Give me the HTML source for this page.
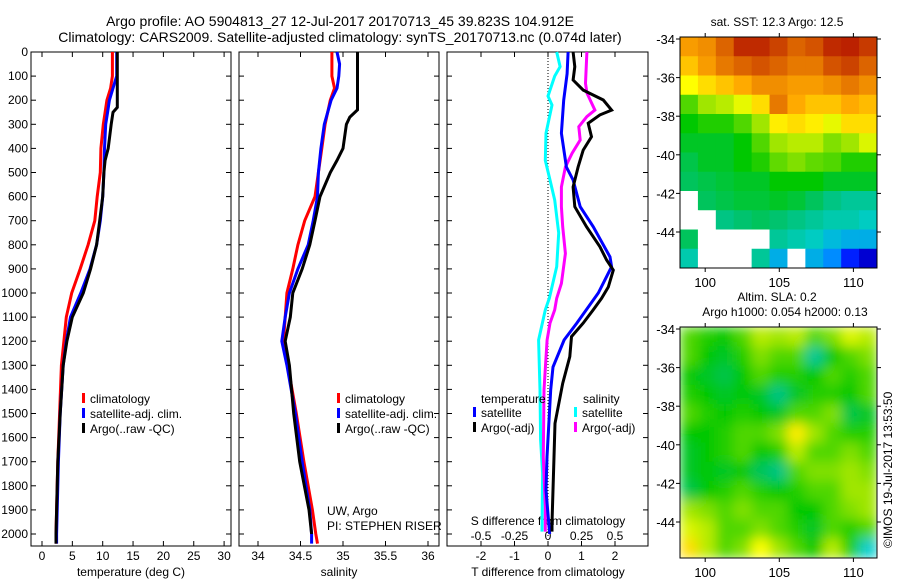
<!DOCTYPE html>
<html><head><meta charset="utf-8"><style>
body{margin:0;background:#fff;}
svg{font-family:"Liberation Sans",sans-serif;}
</style></head><body>
<svg id="c" width="900" height="580" xmlns="http://www.w3.org/2000/svg">
<g font-size="14" text-anchor="middle">
<text x="340" y="26">Argo profile: AO 5904813_27 12-Jul-2017 20170713_45 39.823S 104.912E</text>
<text x="340" y="42">Climatology: CARS2009. Satellite-adjusted climatology: synTS_20170713.nc (0.074d later)</text>
</g>
</svg>
<script>
// ---------- data ----------
const depthLabels=[0,100,200,300,400,500,600,700,800,900,1000,1100,1200,1300,1400,1500,1600,1700,1800,1900,2000];
const tempTicks=[0,5,10,15,20,25,30];
const salTicks=[34,34.5,35,35.5,36];
const salTickLabels=["34","34.5","35","35.5","36"];
const tdTicks=[-2,-1,0,1,2];
const sdTicks=[-0.5,-0.25,0,0.25,0.5];
const sdTickLabels=["-0.5","-0.25","0","0.25","0.5"];
const lonTicks=[100,105,110];
const latTicks=[-34,-36,-38,-40,-42,-44];

const depthT=[0,100,150,200,250,300,400,500,600,700,800,900,1000,1100,1200,1300,1500,1700,2000,2040];
const tempClim=[11.6,11.6,11.3,10.7,10.4,10.1,9.7,9.6,9.1,8.7,7.6,6.3,4.9,4.0,3.6,3.2,2.9,2.6,2.3,2.3];
const tempSat=[12.3,12.3,11.7,11.1,10.8,10.5,10.3,10.2,10.0,9.6,9.0,7.9,6.4,4.7,4.0,3.5,3.0,2.7,2.4,2.4];
const depthArgoT=[0,230,250,300,400,450,500,600,700,800,900,1000,1100,1200,1300,1500,1700,2000,2040];
const tempArgo=[12.4,12.4,11.7,11.4,10.9,10.4,10.2,10.0,9.5,9.0,8.0,6.8,5.0,4.1,3.5,3.0,2.6,2.3,2.3];

const depthS=[0,50,100,150,200,300,400,500,600,700,800,900,1000,1100,1200,1300,1500,1700,1900,2000,2040];
const salClim=[34.87,34.87,34.87,34.9,34.85,34.79,34.75,34.71,34.67,34.55,34.47,34.41,34.34,34.32,34.30,34.35,34.45,34.54,34.64,34.68,34.70];
const salSat=[34.93,34.96,34.95,34.93,34.86,34.78,34.74,34.71,34.70,34.65,34.59,34.47,34.37,34.32,34.28,34.34,34.44,34.52,34.61,34.63,34.63];
const depthArgoS=[0,240,270,300,400,450,500,600,700,800,900,1000,1100,1200,1300,1500,1700,1900,2000];
const salArgo=[35.17,35.17,35.08,35.04,35.0,34.93,34.85,34.73,34.67,34.61,34.52,34.41,34.38,34.32,34.37,34.42,34.49,34.6,34.63];

const depthTdSat=[0,90,200,337,477,531,642,725,850,891,1000,1125,1195,1307,1402,1680,1817,1954,2000];
const tdSat=[0.6,0.57,0.47,0.4,0.55,0.75,0.96,1.35,1.85,1.9,1.5,0.86,0.48,0.15,0.08,-0.03,-0.06,0.02,0.05];
const depthTdArgo=[0,61,116,158,199,241,261,296,352,407,477,560,642,725,808,863,905,975,1022,1070,1125,1181,1264,1375,1541,1680,1817,1954,1990];
const tdArgo=[0.75,0.8,0.75,1.05,1.65,1.9,1.55,1.2,1.3,1.05,0.9,0.75,0.8,1.15,1.55,1.75,1.95,1.8,1.6,1.35,1.05,0.7,0.65,0.44,0.21,0.18,0.15,0.12,0.12];
const depthSdSat=[0,61,100,183,220,337,450,531,614,751,891,1022,1070,1195,1402,1610,1748,1990];
const sdSat=[0.065,0.09,0.05,0.0,0.03,-0.015,-0.02,0.015,0.05,0.08,0.065,0.01,-0.02,-0.07,-0.06,-0.055,-0.04,-0.045];
const depthSdArgo=[0,130,170,241,268,310,365,420,477,560,642,725,836,960,1022,1070,1125,1195,1402,1680,1885,1990];
const sdArgo=[0.29,0.28,0.29,0.35,0.29,0.23,0.24,0.18,0.13,0.1,0.1,0.11,0.13,0.1,0.065,0.05,0.015,-0.007,-0.03,-0.035,-0.02,-0.02];

const N=null;
const sstGrid=[
[.80,.82,.88,.95,.95,.92,.88,.90,.95,.96,.93],
[.75,.80,.85,.88,.90,.88,.85,.85,.90,.92,.88],
[.68,.72,.75,.78,.82,.82,.80,.80,.82,.85,.82],
[.55,.60,.62,.66,.72,.85,.78,.75,.75,.78,.76],
[.50,.52,.52,.55,.60,.70,.72,.70,.66,.72,.72],
[.48,.48,.48,.50,.55,.60,.62,.62,.58,.60,.65],
[.46,.48,.48,.50,.52,.56,.58,.56,.55,.52,.52],
[.45,.46,.47,.48,.48,.50,.50,.50,.48,.48,.48],
[N,.45,.46,.47,.47,.48,.47,.45,.42,.40,.40],
[N,N,.42,.44,.45,.44,.42,.40,.38,.38,.36],
[.45,N,N,N,N,.40,.38,.36,.32,.30,.30],
[.38,N,N,N,.40,.30,N,.30,.25,.15,.08]];
const slaGrid=[
[.55,.52,.50,.55,.62,.60,.62,.55,.58,.65,.62],
[.55,.50,.48,.52,.58,.55,.55,.40,.50,.55,.58],
[.50,.48,.46,.50,.55,.52,.52,.50,.55,.52,.55],
[.52,.50,.48,.50,.48,.42,.48,.52,.52,.50,.55],
[.55,.52,.50,.52,.50,.48,.55,.55,.58,.46,.48],
[.50,.50,.52,.55,.55,.58,.70,.60,.55,.52,.52],
[.48,.50,.52,.55,.50,.52,.62,.55,.55,.58,.55],
[.48,.50,.48,.50,.45,.42,.55,.58,.58,.60,.58],
[.46,.50,.52,.55,.52,.50,.52,.55,.55,.60,.60],
[.60,.58,.55,.58,.55,.55,.50,.50,.55,.58,.60],
[.65,.62,.55,.55,.58,.55,.52,.48,.55,.52,.55],
[.72,.62,.55,.58,.68,.60,.55,.50,.62,.52,.35]];

// ---------- helpers ----------
const svg=document.getElementById('c');
const NS="http://www.w3.org/2000/svg";
function mk(tag,attrs,parent){const e=document.createElementNS(NS,tag);for(const k in attrs)e.setAttribute(k,attrs[k]);(parent||svg).appendChild(e);return e;}
const yTop=52,yBot=546;
const yD=d=>yTop+d*0.241;
const panels=[{x0:31,x1:231},{x0:239,x1:439},{x0:447,x1:648}];
const xT=v=>42+v*6.07;
const xS=v=>258+(v-34)*85;
const xTd=v=>548+v*33.5;
const xSd=v=>548+v*134;

function line(xs,ds,fx,color,name){
  const p=mk('polyline',{points:xs.map((v,i)=>fx(v).toFixed(1)+','+yD(ds[i]).toFixed(1)).join(' '),fill:'none',stroke:color,'stroke-width':3});
  
  
}
function txt(x,y,s,anchor,size,name,parent){const t=mk('text',{x:x,y:y,'text-anchor':anchor||'start','font-size':size||12},parent);t.textContent=s;
  
  
  return t;}

panels.forEach((p,i)=>{
  const r=mk('rect',{x:p.x0,y:yTop,width:p.x1-p.x0,height:yBot-yTop,fill:'none',stroke:'#000','stroke-width':1});
  
  
  depthLabels.forEach(d=>{
    mk('line',{x1:p.x0,x2:p.x0+5,y1:yD(d),y2:yD(d),stroke:'#000'});
    mk('line',{x1:p.x1,x2:p.x1-5,y1:yD(d),y2:yD(d),stroke:'#000'});
  });
});
depthLabels.forEach(d=>txt(28,yD(d)+4,String(d),'end',12,'depth-tick-label'));
tempTicks.forEach(v=>{mk('line',{x1:xT(v),x2:xT(v),y1:yBot,y2:yBot-5,stroke:'#000'});mk('line',{x1:xT(v),x2:xT(v),y1:yTop,y2:yTop+5,stroke:'#000'});txt(xT(v),560,String(v),'middle',12,'temp-tick-label');});
salTicks.forEach((v,i)=>{mk('line',{x1:xS(v),x2:xS(v),y1:yBot,y2:yBot-5,stroke:'#000'});mk('line',{x1:xS(v),x2:xS(v),y1:yTop,y2:yTop+5,stroke:'#000'});txt(xS(v),560,salTickLabels[i],'middle',12,'salinity-tick-label');});
tdTicks.forEach(v=>{mk('line',{x1:xTd(v),x2:xTd(v),y1:yBot,y2:yBot-5,stroke:'#000'});mk('line',{x1:xTd(v),x2:xTd(v),y1:yTop,y2:yTop+5,stroke:'#000'});txt(xTd(v),560,String(v),'middle',12,'t-diff-tick-label');});
sdTicks.forEach((v,i)=>txt(xSd(v),540,sdTickLabels[i],'middle',12,'s-diff-tick-label'));
txt(131,576,'temperature (deg C)','middle',12,'x-axis-title-temperature');
txt(339,576,'salinity','middle',12,'x-axis-title-salinity');
txt(548,576,'T difference from climatology','middle',12,'x-axis-title-t-diff');
txt(548,525,'S difference from climatology','middle',12,'s-diff-axis-title');
const dz=mk('line',{x1:548,x2:548,y1:yTop,y2:yBot-8,stroke:'#000','stroke-dasharray':'1,2'});


line(tempClim,depthT,xT,'#f00','temp-climatology-line');
line(tempSat,depthT,xT,'#00f','temp-satellite-line');
line(tempArgo,depthArgoT,xT,'#000','temp-argo-line');
line(salClim,depthS,xS,'#f00','sal-climatology-line');
line(salSat,depthS,xS,'#00f','sal-satellite-line');
line(salArgo,depthArgoS,xS,'#000','sal-argo-line');
line(sdSat,depthSdSat,xSd,'#0ff','s-diff-satellite-line');
line(sdArgo,depthSdArgo,xSd,'#f0f','s-diff-argo-line');
line(tdSat,depthTdSat,xTd,'#00f','t-diff-satellite-line');
line(tdArgo,depthTdArgo,xTd,'#000','t-diff-argo-line');

function leg(x,y,color,label){
  const g=mk('g',{});
  
  
  mk('rect',{x:x,y:y-10,width:3,height:10,fill:color},g);
  txt(x+8,y,label,'start',12,'legend-label',g);
}
leg(82,403,'#f00','climatology');leg(82,418,'#00f','satellite-adj. clim.');leg(82,433,'#000','Argo(..raw -QC)');
leg(337,403,'#f00','climatology');leg(337,418,'#00f','satellite-adj. clim.');leg(337,433,'#000','Argo(..raw -QC)');
txt(481,403,'temperature','start',12,'legend-header-temperature');
txt(583,403,'salinity','start',12,'legend-header-salinity');
leg(473,417,'#00f','satellite');leg(473,432,'#000','Argo(-adj)');
leg(574,417,'#0ff','satellite');leg(574,432,'#f0f','Argo(-adj)');
txt(327,515,'UW, Argo','start',12,'credit-uw');
txt(327,530,'PI: STEPHEN RISER','start',12,'credit-pi');

// ---------- maps ----------
const cmapStops=[[0,[0,0,120]],[0.12,[0,0,255]],[0.25,[0,140,255]],[0.35,[0,205,205]],[0.44,[0,195,110]],[0.5,[0,200,0]],[0.6,[160,230,0]],[0.68,[255,255,0]],[0.78,[255,170,0]],[0.88,[220,100,0]],[1,[170,0,0]]];
function cmap(v){
  v=Math.max(0,Math.min(1,v));
  for(let i=1;i<cmapStops.length;i++){
    const [a,ca]=cmapStops[i-1],[b,cb]=cmapStops[i];
    if(v<=b){const t=(v-a)/(b-a);return `rgb(${ca.map((c,k)=>Math.round(c+(cb[k]-c)*t)).join(',')})`;}
  }
  return 'rgb(170,0,0)';
}
const mx0=680,mx1=877;
const xLon=l=>mx0+(l-98.3)*14.82;
function drawMap(grid,yt,name,blur){
  const yb=yt+231;
  const yLat=la=>yt+2+(-34-la)*19.3;
  const cp=mk('clipPath',{id:'clip'+name});mk('rect',{x:mx0,y:yt,width:mx1-mx0,height:yb-yt},cp);
  const g=mk('g',{'clip-path':`url(#clip${name})`});
  
  
  const inner=mk('g',blur?{filter:'url(#blur)'}:{},g);
  const rows=grid.length,cols=grid[0].length;
  const cw=(mx1-mx0)/cols,ch=(yb-yt)/rows;
  grid.forEach((row,r)=>row.forEach((v,c)=>{
    const cell=mk('rect',{x:mx0+c*cw,y:yt+r*ch,width:cw+0.5,height:ch+0.5,fill:v===null?'#fff':cmap(v)},inner);
    
    
  }));
  const fr=mk('rect',{x:mx0,y:yt,width:mx1-mx0,height:yb-yt,fill:'none',stroke:'#000'});
  
  latTicks.forEach(la=>{const y=yLat(la);mk('line',{x1:mx0-4,x2:mx0,y1:y,y2:y,stroke:'#000'});mk('line',{x1:mx1,x2:mx1+4,y1:y,y2:y,stroke:'#000'});txt(mx0-5,y+5,String(la),'end',13,'lat-tick-label');});
  lonTicks.forEach(lo=>{const x=xLon(lo);mk('line',{x1:x,x2:x,y1:yb,y2:yb+4,stroke:'#000'});mk('line',{x1:x,x2:x,y1:yt-4,y2:yt,stroke:'#000'});txt(x,yb+19,String(lo),'middle',13,'lon-tick-label');});
}
const defs=mk('defs',{});const f=mk('filter',{id:'blur',x:'-10%',y:'-10%',width:'120%',height:'120%'},defs);mk('feGaussianBlur',{stdDeviation:6},f);
drawMap(sstGrid,37,'sst-map',false);
drawMap(slaGrid,327,'sla-map',true);
txt(777,26,'sat. SST: 12.3 Argo: 12.5','middle',12,'sst-map-title');
txt(777,301,'Altim. SLA: 0.2','middle',12,'sla-map-title');
txt(785,316,'Argo h1000: 0.054 h2000: 0.13','middle',12,'sla-map-subtitle');
const im=txt(0,0,'©IMOS 19-Jul-2017 13:53:50','start',12,'imos-timestamp');
im.setAttribute('transform','translate(892,548) rotate(-90)');
</script>
</body></html>
